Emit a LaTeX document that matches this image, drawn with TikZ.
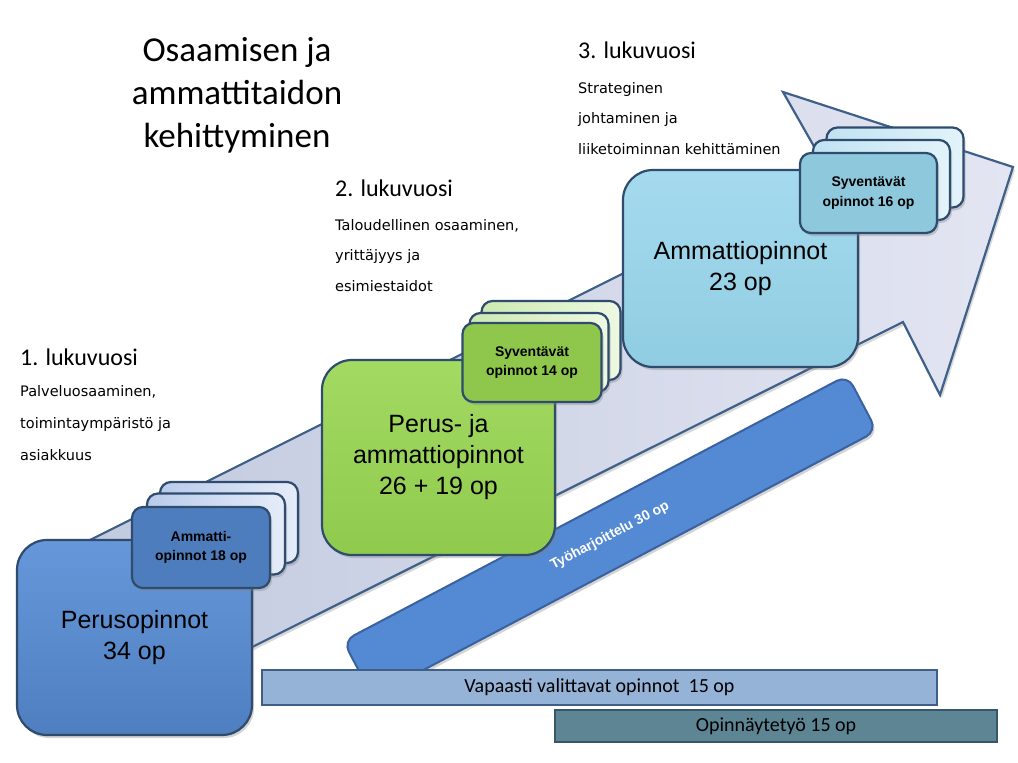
\documentclass[tikz,border=0pt]{standalone}
\usepackage{fontspec}
\setmainfont{Liberation Sans}
\newfontfamily\calfont{Carlito}
\newfontfamily\tahfont{DejaVu Sans}
\usetikzlibrary{shadows}
\definecolor{edge}{HTML}{2F4B6E}
\definecolor{arrowedge}{HTML}{3F6089}
\definecolor{arrowlight}{HTML}{E3E5F2}
\definecolor{arrowdark}{HTML}{C2CADF}
\definecolor{perustop}{HTML}{6597DA}
\definecolor{perusbot}{HTML}{4F7FC0}
\definecolor{ammfront}{HTML}{4E7DBD}
\definecolor{ammbackA}{HTML}{B9CBEB}
\definecolor{ammbackB}{HTML}{E6ECF8}
\definecolor{greentop}{HTML}{A3DA62}
\definecolor{greenbot}{HTML}{8FCA4D}
\definecolor{greenfront}{HTML}{8EC74C}
\definecolor{greenbackA}{HTML}{CDE9B0}
\definecolor{greenbackB}{HTML}{EDF8E2}
\definecolor{cyantop}{HTML}{A5DAEE}
\definecolor{cyanbot}{HTML}{90CDE2}
\definecolor{cyanfront}{HTML}{8DC8DD}
\definecolor{cyanbackA}{HTML}{C0E3F2}
\definecolor{cyanbackB}{HTML}{E3F3FA}
\definecolor{tyofill}{HTML}{5489D4}
\definecolor{tyoedge}{HTML}{3A61A0}
\definecolor{vapfill}{HTML}{95B3D7}
\definecolor{vapedge}{HTML}{3F5F86}
\definecolor{opfill}{HTML}{5D8593}
\definecolor{opedge}{HTML}{34586A}
\begin{document}
\begin{tikzpicture}[x=1pt,y=-1pt,
  shadowed/.style={drop shadow={shadow xshift=2pt,shadow yshift=-3pt,opacity=0.35}},
  bigbox/.style={draw=edge, line width=2.2pt, rounded corners=30pt, inner sep=0pt,
    align=center, font=\fontsize{25}{31}\selectfont, shadowed},
  smallbox/.style={draw=edge, line width=2.2pt, rounded corners=11pt, inner sep=0pt,
    align=center, font=\bfseries\fontsize{14}{19.5}\selectfont, shadowed},
  heading/.style={anchor=base west, inner sep=0pt, font=\calfont\fontsize{24}{28}\selectfont},
  subtext/.style={anchor=base west, inner sep=0pt, font=\tahfont\fontsize{14.5}{18}\selectfont},
  barbox/.style={line width=2pt, inner sep=0pt, font=\calfont\fontsize{20}{24}\selectfont}
]
\useasboundingbox (0,0) rectangle (1018,763);

% big arrow
\draw[arrowedge, line width=2.2pt, left color=arrowdark, right color=arrowlight,
      drop shadow={shadow xshift=2pt,shadow yshift=-3pt,opacity=0.3}]
  (90,540) -- (828,171) -- (783,92) -- (1013,167) -- (940,395) -- (903,322) -- (90,728) -- cycle;

% title
\node[align=center, font=\calfont\fontsize{35}{43}\selectfont] (title) at (237,95)
  {Osaamisen ja\\ammattitaidon\\kehittyminen};

% year texts
\node[heading] (y1) at (20,365) {1. lukuvuosi};
\node[subtext] (y1a) at (20,396) {Palveluosaaminen,};
\node[subtext] (y1b) at (20,428) {toimintaympäristö ja};
\node[subtext] (y1c) at (20,460) {asiakkuus};

\node[heading] (y2) at (335,196) {2. lukuvuosi};
\node[subtext] (y2a) at (335,230) {Taloudellinen osaaminen,};
\node[subtext] (y2b) at (335,260) {yrittäjyys ja};
\node[subtext] (y2c) at (335,291) {esimiestaidot};

\node[heading] (y3) at (578,58) {3. lukuvuosi};
\node[subtext] (y3a) at (578,93) {Strateginen};
\node[subtext] (y3b) at (578,123) {johtaminen ja};
\node[subtext] (y3c) at (578,154) {liiketoiminnan kehittäminen};

% Tyoharjoittelu bar
\node[draw=tyoedge, fill=tyofill, line width=2pt, rounded corners=12pt, inner sep=0pt,
      minimum width=570pt, minimum height=63pt, rotate=27.8, shadowed,
      text=white, font=\bfseries\fontsize{14}{16}\selectfont] (tyo) at (610,536)
  {Työharjoittelu 30 op};

% bottom bars
\node[barbox, draw=vapedge, fill=vapfill, minimum width=675pt, minimum height=35pt] (vap) at (599.5,687.5)
  {Vapaasti valittavat opinnot\ \ 15 op};
\node[barbox, draw=opedge, fill=opfill, minimum width=442pt, minimum height=32pt] (opn) at (776,726)
  {Opinnäytetyö 15 op};

% year 1
\node[bigbox, top color=perustop, bottom color=perusbot, minimum width=235pt, minimum height=195pt]
  (perus) at (134.5,637.5) {Perusopinnot\\34 op};
\node[smallbox, left color=ammbackA, right color=ammbackB, minimum width=138pt, minimum height=81pt]
  (amm3) at (229,522.5) {};
\node[smallbox, left color=ammbackA, right color=ammbackB, minimum width=138pt, minimum height=81pt]
  (amm2) at (216,534) {};
\node[smallbox, fill=ammfront, minimum width=138pt, minimum height=81pt]
  (amm1) at (201,547.5) {Ammatti-\\opinnot 18 op};

% year 2
\node[bigbox, top color=greentop, bottom color=greenbot, minimum width=233pt, minimum height=195pt]
  (green) at (438.5,457.5) {Perus- ja\\ammattiopinnot\\26 + 19 op};
\node[smallbox, left color=greenbackA, right color=greenbackB, minimum width=139pt, minimum height=79pt]
  (syv3) at (551,340.5) {};
\node[smallbox, left color=greenbackA, right color=greenbackB, minimum width=139pt, minimum height=79pt]
  (syv2) at (539,352.5) {};
\node[smallbox, fill=greenfront, minimum width=139pt, minimum height=79pt]
  (syv1) at (532,362.5) {Syventävät\\opinnot 14 op};

% year 3
\node[bigbox, top color=cyantop, bottom color=cyanbot, minimum width=235pt, minimum height=197pt]
  (cyan) at (740.5,268.5) {Ammattiopinnot\\23 op};
\node[smallbox, left color=cyanbackA, right color=cyanbackB, minimum width=137pt, minimum height=80pt]
  (syc3) at (895,167.5) {};
\node[smallbox, left color=cyanbackA, right color=cyanbackB, minimum width=137pt, minimum height=80pt]
  (syc2) at (881.5,180) {};
\node[smallbox, fill=cyanfront, minimum width=137pt, minimum height=80pt]
  (syc1) at (868.5,193) {Syventävät\\opinnot 16 op};
\end{tikzpicture}
\end{document}
